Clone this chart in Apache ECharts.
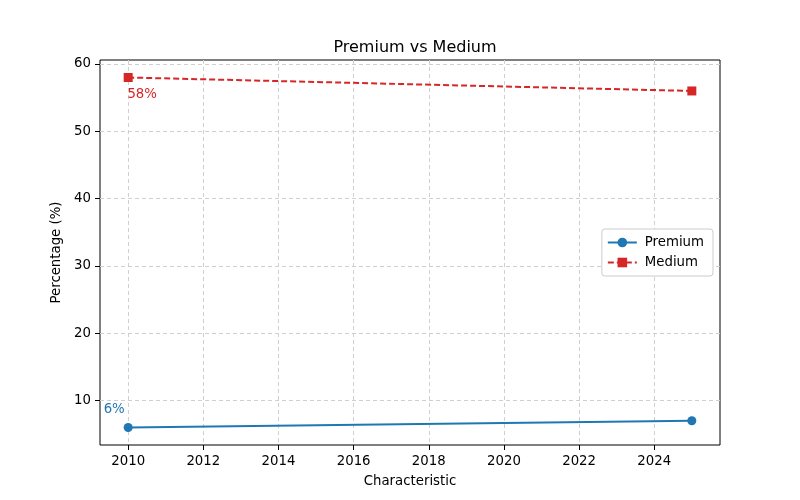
<!DOCTYPE html>
<html><head><meta charset="utf-8">
<script src="https://cdn.jsdelivr.net/npm/echarts@6/dist/echarts.min.js"></script>
<style>html,body{margin:0;padding:0;background:#fff}#c{width:800px;height:500px}</style>
</head><body><div id="c"></div>
<script>
const years = [2010, 2025];
const premium = [6, 7];
const medium = [58, 56];
const xTicks = [2010, 2012, 2014, 2016, 2018, 2020, 2022, 2024];
const yTicks = [10, 20, 30, 40, 50, 60];
const F = 'DejaVu Sans';

function pts(vals, labelOpt) {
  return vals.map((v, i) => i === 0
    ? { value: [years[i], v], label: Object.assign({ show: true, formatter: v + '%' }, labelOpt) }
    : { value: [years[i], v] });
}

const chart = echarts.init(document.getElementById('c'), null, { renderer: 'canvas' });
chart.setOption({
  animation: false,
  backgroundColor: '#fff',
  title: { text: 'Premium vs Medium', left: 410, textAlign: 'center', top: 35,
    textStyle: { fontFamily: F, fontSize: 16, fontWeight: 'normal', color: '#000' } },
  grid: { left: 100, right: 80, top: 60, bottom: 55, show: true, borderColor: '#000', borderWidth: 1 },
  legend: {
    orient: 'vertical', right: 87, top: 229, itemWidth: 29, itemHeight: 12, itemGap: 7,
    padding: [7, 9, 7, 5], borderColor: '#ccc', borderWidth: 1, borderRadius: 3, backgroundColor: '#fff',
    textStyle: { fontFamily: F, fontSize: 13.3, color: '#000', padding: [0, 0, 0, 3] },
    data: ['Premium', 'Medium']
  },
  xAxis: {
    type: 'value', min: 2009.25, max: 2025.75,
    name: 'Characteristic', nameLocation: 'middle', nameGap: 30,
    nameTextStyle: { fontFamily: F, fontSize: 13.3, color: '#000' },
    axisLine: { show: false },
    axisTick: { show: true, length: 5, inside: false, customValues: xTicks, lineStyle: { color: '#000' } },
    axisLabel: { customValues: xTicks, formatter: v => String(v), fontFamily: F, fontSize: 13.3, color: '#000', margin: 10 },
    splitLine: { show: true, lineStyle: { color: '#d0d0d0', type: [4, 3], width: 1 } }
  },
  yAxis: {
    type: 'value', min: 3.4, max: 60.6,
    name: 'Percentage (%)', nameLocation: 'middle', nameGap: 28,
    nameTextStyle: { fontFamily: F, fontSize: 13.3, color: '#000' },
    axisLine: { show: false },
    axisTick: { show: true, length: 5, customValues: yTicks, lineStyle: { color: '#000' } },
    axisLabel: { customValues: yTicks, formatter: v => String(v), fontFamily: F, fontSize: 13.3, color: '#000', margin: 9 },
    splitLine: { show: true, lineStyle: { color: '#d0d0d0', type: [4, 3], width: 1 } }
  },
  series: [
    { name: 'Premium', type: 'line', color: '#1f77b4', symbol: 'circle', symbolSize: 9,
      lineStyle: { width: 2, color: '#1f77b4' }, itemStyle: { color: '#1f77b4' },
      data: pts(premium, { position: 'top', offset: [-14, -2], color: '#1f77b4', fontFamily: F, fontSize: 13.3 }) },
    { name: 'Medium', type: 'line', color: '#d62728', symbol: 'rect', symbolSize: 9,
      lineStyle: { width: 2, type: [6, 3], color: '#d62728' }, itemStyle: { color: '#d62728' },
      data: pts(medium, { position: 'bottom', offset: [14, 1], color: '#d62728', fontFamily: F, fontSize: 13.3 }) }
  ]
});
</script></body></html>
